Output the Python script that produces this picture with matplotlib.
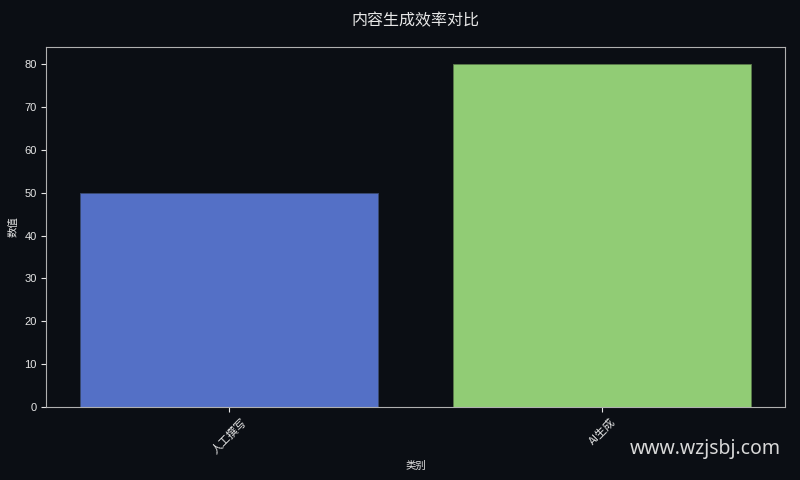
import matplotlib

matplotlib.use("Agg")
import matplotlib.pyplot as plt

plt.rcParams["font.family"] = ["Noto Sans CJK SC", "DejaVu Sans"]

categories = ["人工撰写", "AI生成"]
values = [50, 80]
bar_colors = ["#5470c6", "#91cc75"]

BG = "#0b0e14"
FG = "#e6e6e6"

fig, ax = plt.subplots(figsize=(8, 4.8), dpi=100)
fig.patch.set_facecolor(BG)
ax.set_facecolor(BG)

ax.bar(categories, values, color=bar_colors, edgecolor="#3a4a70", linewidth=0.6)
ax.patches[1].set_edgecolor("#5a7a4a")

ax.set_title("内容生成效率对比", color=FG, fontsize=11.5, pad=16)
ax.set_xlabel("类别", color=FG, fontsize=7.5)
ax.set_ylabel("数值", color=FG, fontsize=7.5)
ax.tick_params(axis="x", colors=FG, labelsize=8, labelrotation=45)
ax.tick_params(axis="y", colors=FG, labelsize=8)
for label in ax.get_yticklabels():
    label.set_family(["Liberation Sans", "DejaVu Sans"])
for spine in ax.spines.values():
    spine.set_color("#b0b0b0")

fig.text(0.976, 0.065, "www.wzjsbj.com", color="#d8d8d8", fontsize=14,
         ha="right", va="center", family=["Noto Sans", "DejaVu Sans"])

fig.subplots_adjust(left=0.058, right=0.981, top=0.902, bottom=0.152)
fig.savefig("out.png", dpi=100, facecolor=BG)
